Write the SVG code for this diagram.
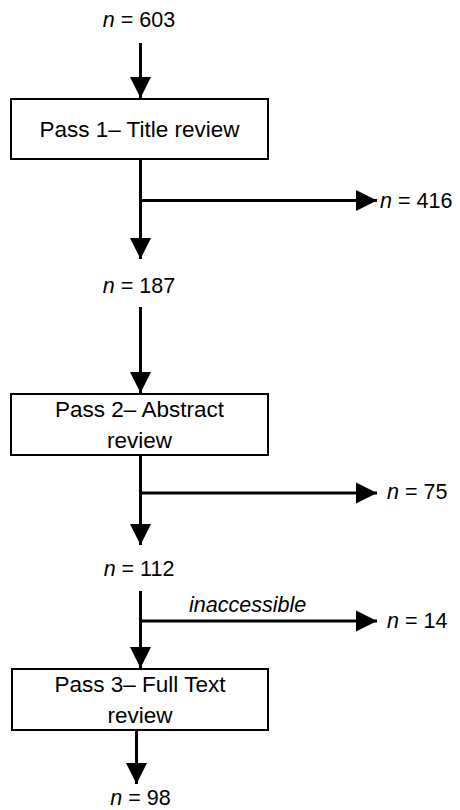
<svg xmlns="http://www.w3.org/2000/svg" width="460" height="810" viewBox="0 0 460 810">
<style>
text{font-family:"Liberation Sans",Arial,sans-serif;font-size:21.5px;fill:#000}
.b{font-size:22.5px}
.c{text-anchor:middle}
.i{font-style:italic}
.box{fill:#fff;stroke:#000;stroke-width:2}
.ln{stroke:#000;stroke-width:3;fill:none}
.ar{marker-end:url(#ah)}
</style>
<defs>
<marker id="ah" markerUnits="userSpaceOnUse" markerWidth="22" markerHeight="22" refX="21" refY="10.5" orient="auto" viewBox="0 0 22 21">
<path d="M0,0 L21,10.5 L0,21 Z" fill="#000"/>
</marker>
</defs>
<rect width="460" height="810" fill="#fff"/>
<g id="connectors">
<line class="ln ar" x1="140.5" y1="43" x2="140.5" y2="98"/>
<line class="ln ar" x1="140.5" y1="159" x2="140.5" y2="259"/>
<line class="ln ar" x1="140.5" y1="200.5" x2="377" y2="200.5"/>
<line class="ln ar" x1="140.5" y1="307" x2="140.5" y2="393"/>
<line class="ln ar" x1="140.5" y1="455" x2="140.5" y2="545"/>
<line class="ln ar" x1="140.5" y1="493" x2="377" y2="493"/>
<line class="ln ar" x1="140.5" y1="591" x2="140.5" y2="668"/>
<line class="ln ar" x1="140.5" y1="621" x2="377" y2="621"/>
<line class="ln ar" x1="136.5" y1="730" x2="136.5" y2="784"/>
<text class="i" x="189" y="612">inaccessible</text>
</g>
<g id="n603"><text class="c" x="139" y="27"><tspan class="i">n</tspan> = 603</text></g>
<g id="pass1">
<rect class="box" x="11" y="99" width="257" height="60"/>
<text class="c b" x="139.5" y="137">Pass 1– Title review</text>
</g>
<g id="n416"><text x="380" y="208"><tspan class="i">n</tspan> = 416</text></g>
<g id="n187"><text class="c" x="139" y="293"><tspan class="i">n</tspan> = 187</text></g>
<g id="pass2">
<rect class="box" x="11" y="394" width="257" height="61"/>
<text class="c b" x="139.5" y="417">Pass 2– Abstract</text>
<text class="c b" x="139.5" y="448">review</text>
</g>
<g id="n75"><text x="387" y="499"><tspan class="i">n</tspan> = 75</text></g>
<g id="n112"><text class="c" x="139" y="576"><tspan class="i">n</tspan> = 112</text></g>
<g id="n14"><text x="387" y="628"><tspan class="i">n</tspan> = 14</text></g>
<g id="pass3">
<rect class="box" x="12" y="669" width="256" height="61"/>
<text class="c b" x="140" y="692">Pass 3– Full Text</text>
<text class="c b" x="140" y="723">review</text>
</g>
<g id="n98"><text class="c" x="140.5" y="805"><tspan class="i">n</tspan> = 98</text></g>
</svg>
